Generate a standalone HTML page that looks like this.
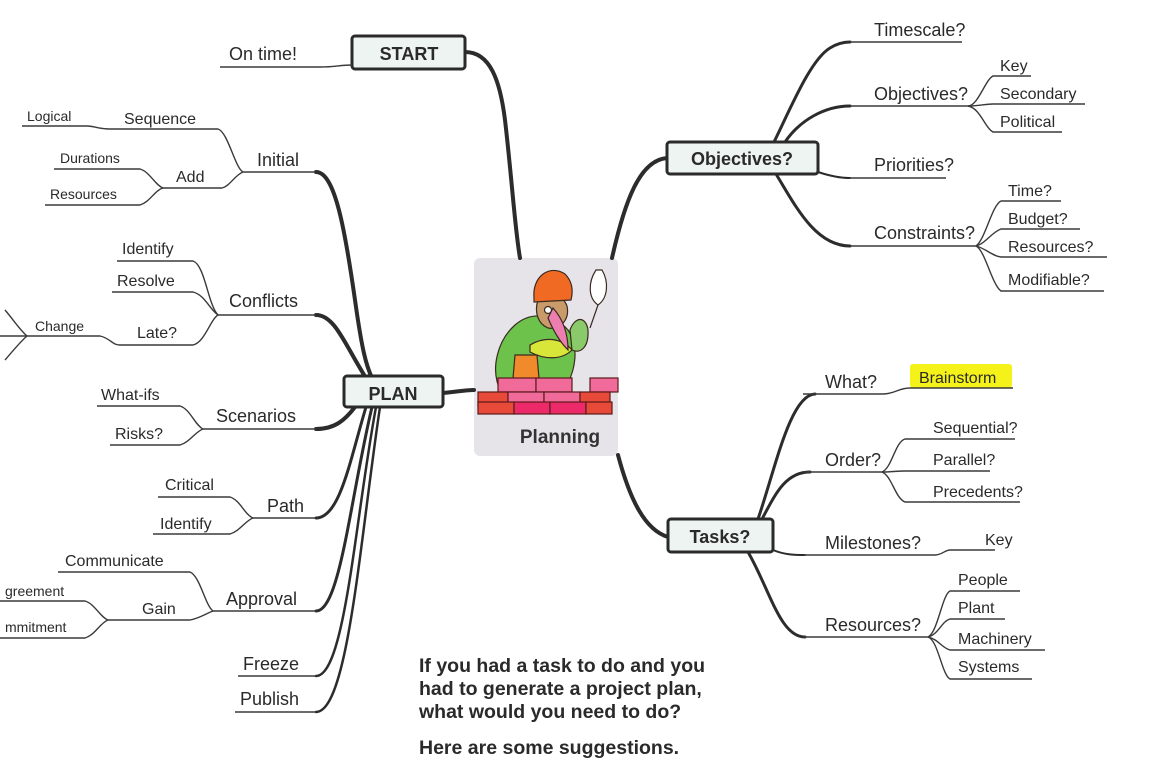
<!DOCTYPE html>
<html><head><meta charset="utf-8"><style>
html,body{margin:0;padding:0;background:#fff;}
svg{display:block;}
text{font-family:"Liberation Sans",Arial,sans-serif;fill:#2a2a2a;}
.t18{font-size:18px;}
.t16{font-size:16px;}
.t14{font-size:14px;}
.b{font-weight:bold;}
.th{fill:none;stroke:#2c2c2c;stroke-width:4;stroke-linecap:round;}
.tn{fill:none;stroke:#3a3a3a;stroke-width:1.4;}
.box{fill:#eef4f1;stroke:#2a2a2a;stroke-width:3;}
</style></head><body>
<svg width="1159" height="777" viewBox="0 0 1159 777" xmlns="http://www.w3.org/2000/svg">
<rect x="474" y="258" width="144" height="198" rx="6" fill="#e6e4e9"/>
<path class="th" d="M465,52 C490,52 500,80 505,120 C512,180 515,230 520,258"/>
<path class="th" d="M667,158 C640,160 625,200 612,258"/>
<path class="th" d="M618,455 C630,500 645,530 668,537"/>
<path class="th" d="M443,393 C455,392 465,390 474,390"/>
<path class="th" d="M316,172 C335,172 345,230 355,300 C362,350 366,365 372,378"/>
<path class="th" d="M316,315 C335,315 345,345 366,378"/>
<path class="th" d="M316,429 C335,429 345,420 355,407"/>
<path class="th" d="M316,518 C340,518 350,460 366,407" style="stroke-width:3"/>
<path class="th" d="M316,611 C340,611 350,500 372,407" style="stroke-width:3"/>
<path class="th" d="M316,676 C345,676 355,520 376,407" style="stroke-width:2.5"/>
<path class="th" d="M316,712 C348,712 360,540 380,407" style="stroke-width:2.5"/>
<path class="th" d="M774,142 C790,110 810,60 830,48 C838,43 845,42 850,42" style="stroke-width:3"/>
<path class="th" d="M785,142 C800,120 825,106 850,106" style="stroke-width:3"/>
<path class="th" d="M818,172 C830,176 840,178 850,178" style="stroke-width:2"/>
<path class="th" d="M776,174 C795,205 815,246 850,246" style="stroke-width:3"/>
<path class="th" d="M758,519 C775,470 790,395 815,394" style="stroke-width:3"/>
<path class="th" d="M762,519 C775,495 785,472 810,472" style="stroke-width:3"/>
<path class="th" d="M773,550 C785,555 795,555 805,555" style="stroke-width:2"/>
<path class="th" d="M748,552 C770,590 780,637 805,637" style="stroke-width:3"/>

<rect class="box" x="352" y="36" width="113" height="33" rx="3"/>
<text class="t18 b" x="409" y="60" text-anchor="middle">START</text>
<rect class="box" x="344" y="376" width="99" height="31" rx="3"/>
<text class="t18 b" x="393" y="400" text-anchor="middle">PLAN</text>
<rect class="box" x="667" y="142" width="151" height="32" rx="3"/>
<text class="t18 b" x="742" y="165" text-anchor="middle">Objectives?</text>
<rect class="box" x="668" y="519" width="105" height="33" rx="3"/>
<text class="t18 b" x="720" y="543" text-anchor="middle">Tasks?</text>

<path class="tn" d="M220,67 L320,67 C335,67 340,65 352,65"/>
<text class="t18" x="229" y="60">On time!</text>

<path class="tn" d="M22,126 L87,126 C95,126 98,129 110,129 L218,129 C228,132 235,168 243,172 L316,172"/>
<path class="tn" d="M54,169 L140,169 C150,172 155,185 163,188 L222,188 C230,186 235,175 243,172"/>
<path class="tn" d="M45,205 L140,205 C150,202 155,190 163,188"/>
<text class="t14" x="27" y="121">Logical</text>
<text class="t16" x="124" y="124">Sequence</text>
<text class="t18" x="257" y="166">Initial</text>
<text class="t14" x="60" y="163">Durations</text>
<text class="t16" x="176" y="182">Add</text>
<text class="t14" x="50" y="199">Resources</text>
<path class="tn" d="M117,261 L193,261 C205,265 208,305 218,315 L316,315"/>
<path class="tn" d="M112,292 L193,292 C205,295 210,310 218,315"/>
<path class="tn" d="M120,345 L193,345 C205,342 210,320 218,315"/>
<path class="tn" d="M0,336 L100,336 C110,338 112,345 120,345"/>
<path class="tn" d="M5,310 C12,318 20,330 27,336 C20,342 12,352 5,360"/>
<text class="t16" x="122" y="254">Identify</text>
<text class="t16" x="117" y="286">Resolve</text>
<text class="t18" x="229" y="307">Conflicts</text>
<text class="t14" x="35" y="331">Change</text>
<text class="t16" x="137" y="338">Late?</text>
<path class="tn" d="M97,406 L180,406 C190,409 195,425 203,429 L316,429"/>
<path class="tn" d="M110,445 L180,445 C190,442 195,432 203,429"/>
<text class="t16" x="101" y="400">What-ifs</text>
<text class="t16" x="115" y="439">Risks?</text>
<text class="t18" x="216" y="422">Scenarios</text>
<path class="tn" d="M158,497 L230,497 C240,500 245,515 253,518 L316,518"/>
<path class="tn" d="M153,534 L230,534 C240,531 245,521 253,518"/>
<text class="t16" x="165" y="490">Critical</text>
<text class="t16" x="160" y="529">Identify</text>
<text class="t18" x="267" y="512">Path</text>
<path class="tn" d="M58,572 L190,572 C200,576 205,605 213,611 L316,611"/>
<path class="tn" d="M108,620 L190,620 C200,618 205,614 213,611"/>
<path class="tn" d="M0,601 L85,601 C95,604 100,617 108,620"/>
<path class="tn" d="M0,638 L85,638 C95,635 100,623 108,620"/>
<text class="t16" x="65" y="566">Communicate</text>
<text class="t16" x="142" y="614">Gain</text>
<text class="t14" x="5" y="596">greement</text>
<text class="t14" x="5" y="632">mmitment</text>
<text class="t18" x="226" y="605">Approval</text>
<path class="tn" d="M238,676 L316,676"/>
<path class="tn" d="M235,712 L316,712"/>
<text class="t18" x="243" y="670">Freeze</text>
<text class="t18" x="240" y="705">Publish</text>

<path class="tn" d="M850,42 L962,42"/>
<path class="tn" d="M850,106 L968,106 C978,106 985,80 993,76 L1031,76"/>
<path class="tn" d="M968,106 C980,106 985,104 993,104 L1085,104"/>
<path class="tn" d="M968,106 C980,108 985,128 993,132 L1062,132"/>
<path class="tn" d="M850,178 L946,178"/>
<path class="tn" d="M850,246 L976,246 C985,240 992,205 1001,201 L1061,201"/>
<path class="tn" d="M976,246 C985,244 992,232 1001,229 L1080,229"/>
<path class="tn" d="M976,246 C985,248 992,256 1001,257 L1107,257"/>
<path class="tn" d="M976,246 C985,250 992,285 1001,291 L1104,291"/>
<text class="t18" x="874" y="36">Timescale?</text>
<text class="t18" x="874" y="100">Objectives?</text>
<text class="t16" x="1000" y="71">Key</text>
<text class="t16" x="1000" y="99">Secondary</text>
<text class="t16" x="1000" y="127">Political</text>
<text class="t18" x="874" y="171">Priorities?</text>
<text class="t18" x="874" y="239">Constraints?</text>
<text class="t16" x="1008" y="196">Time?</text>
<text class="t16" x="1008" y="224">Budget?</text>
<text class="t16" x="1008" y="252">Resources?</text>
<text class="t16" x="1008" y="285">Modifiable?</text>

<rect x="910" y="364" width="102" height="24" rx="3" fill="#f4f218"/>
<path class="tn" d="M803,394 L883,394 C895,394 898,388 910,388 L1013,388"/>
<path class="tn" d="M803,472 L882,472 C892,468 895,442 905,439 L1015,439"/>
<path class="tn" d="M882,472 C892,472 895,471 905,471 L990,471"/>
<path class="tn" d="M882,472 C892,476 895,498 905,502 L1020,502"/>
<path class="tn" d="M803,555 L935,555 C942,555 945,550 950,550 L995,550"/>
<path class="tn" d="M803,637 L928,637 C938,632 942,595 950,591 L1020,591"/>
<path class="tn" d="M928,637 C938,635 942,621 950,619 L1005,619"/>
<path class="tn" d="M928,637 C938,639 942,648 950,650 L1045,650"/>
<path class="tn" d="M928,637 C938,640 942,675 950,679 L1032,679"/>
<text class="t16" x="919" y="383">Brainstorm</text>
<text class="t18" x="825" y="388">What?</text>
<text class="t18" x="825" y="466">Order?</text>
<text class="t16" x="933" y="433">Sequential?</text>
<text class="t16" x="933" y="465">Parallel?</text>
<text class="t16" x="933" y="497">Precedents?</text>
<text class="t18" x="825" y="549">Milestones?</text>
<text class="t16" x="985" y="545">Key</text>
<text class="t18" x="825" y="631">Resources?</text>
<text class="t16" x="958" y="585">People</text>
<text class="t16" x="958" y="613">Plant</text>
<text class="t16" x="958" y="644">Machinery</text>
<text class="t16" x="958" y="672">Systems</text>

<g stroke="#3a2a20" stroke-width="1.2">
<path d="M500,390 C490,368 498,340 515,325 C532,310 555,315 568,330 C580,348 575,372 565,388 Z" fill="#6cc24a"/>
<path d="M530,345 C545,336 562,338 572,350 C562,360 545,360 530,352 Z" fill="#d8e63a"/>
<path d="M515,355 L537,355 L540,390 L512,390 Z" fill="#f08a2a"/>
<path d="M538,300 C543,290 562,292 567,306 C570,320 560,330 548,328 C538,324 534,312 538,300 Z" fill="#c99a6a"/>
<path d="M553,308 C562,318 568,332 568,350 C560,342 553,330 548,318 Z" fill="#ec7fb0"/>
<circle cx="548" cy="310" r="3.5" fill="#ffffff"/>
<path d="M534,298 C532,276 550,264 565,274 C573,282 573,292 571,300 L534,302 Z" fill="#f06a24"/>
<path d="M570,330 C575,316 586,316 588,330 C589,348 580,354 572,350 Z" fill="#8aca6a"/>
<path d="M596,270 C588,282 588,298 598,305 C608,298 609,282 602,270 Z" fill="#ffffff"/>
<line x1="598" y1="305" x2="590" y2="328"/>
</g>
<g stroke="#5a1a1a" stroke-width="1.2">
<rect x="498" y="378" width="38" height="14" fill="#f06a9a"/>
<rect x="536" y="378" width="36" height="14" fill="#f06a9a"/>
<rect x="590" y="378" width="28" height="14" fill="#f06a9a"/>
<rect x="478" y="392" width="30" height="14" fill="#e84a3a"/>
<rect x="508" y="392" width="36" height="14" fill="#f06a9a"/>
<rect x="544" y="392" width="36" height="14" fill="#f06a9a"/>
<rect x="580" y="392" width="30" height="14" fill="#e84a3a"/>
<rect x="478" y="402" width="36" height="12" fill="#e84a3a"/>
<rect x="514" y="402" width="36" height="12" fill="#ec2a6a"/>
<rect x="550" y="402" width="36" height="12" fill="#ec2a6a"/>
<rect x="586" y="402" width="26" height="12" fill="#e84a3a"/>
</g>
<text x="560" y="443" text-anchor="middle" style="font-size:19px;font-weight:bold;fill:#333">Planning</text>

<g style="font-size:19.5px;font-weight:bold">
<text x="419" y="672">If you had a task to do and you</text>
<text x="419" y="695">had to generate a project plan,</text>
<text x="419" y="718">what would you need to do?</text>
<text x="419" y="754">Here are some suggestions.</text>
</g>
</svg>
</body></html>
